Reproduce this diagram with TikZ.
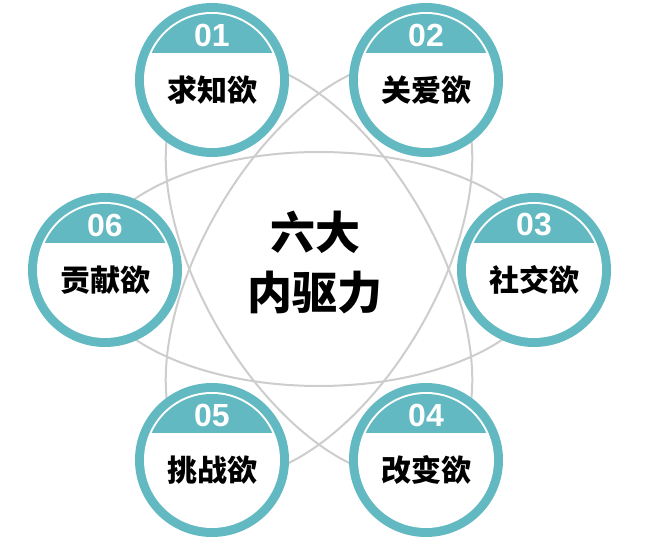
\documentclass[tikz,border=0pt]{standalone}
\usepackage{fontspec}
\setmainfont{Liberation Sans}
\newfontfamily\cjk{Noto Sans CJK SC}
\usetikzlibrary{calc}
\definecolor{tealc}{RGB}{98,185,193}
\definecolor{grayl}{RGB}{205,205,205}
\tikzset{
  badge/.style={circle, fill=tealc, minimum size=154pt, inner sep=0pt},
  numtext/.style={text=white, inner sep=0pt, font=\fontsize{32}{32}\selectfont\bfseries},
  lbltext/.style={inner sep=0pt, font=\cjk\bfseries\fontsize{30}{30}\selectfont},
  bgline/.style={draw=grayl, line width=2pt},
  centertext/.style={align=center, inner sep=0pt, font=\cjk\bfseries\fontsize{45}{60}\selectfont}
}
\newcommand\mkbadge[5]{%
  \node[badge] (#1) at (#2,#3) {};
  \fill[white] (#1.center) circle (68pt);
  \begin{scope}
    \clip (#1.center) circle (66pt);
    \fill[tealc] ($(#1.center)+(-70pt,27pt)$) rectangle ($(#1.center)+(70pt,70pt)$);
  \end{scope}
  \node[numtext] (#1n) at ($(#1.center)+(0,45pt)$) {#4};
  \node[lbltext] (#1l) at ($(#1.center)+(0,-10pt)$) {#5};
}
\begin{document}
\begin{tikzpicture}[x=1pt,y=1pt]
\useasboundingbox (0,0) rectangle (652,537);
\coordinate (c) at (319,268);
\draw[bgline] (c) ellipse [x radius=230pt, y radius=117pt];
\draw[bgline, rotate around={60:(c)}] (c) ellipse [x radius=230pt, y radius=117pt];
\draw[bgline, rotate around={120:(c)}] (c) ellipse [x radius=230pt, y radius=117pt];
\mkbadge{b1}{212}{457}{01}{求知欲}
\mkbadge{b2}{426}{457}{02}{关爱欲}
\mkbadge{b3}{534}{267}{03}{社交欲}
\mkbadge{b4}{426}{77}{04}{改变欲}
\mkbadge{b5}{212}{77}{05}{挑战欲}
\mkbadge{b6}{105}{267}{06}{贡献欲}
\node[centertext] (ct) at (315,274) {六大\\内驱力};
\end{tikzpicture}
\end{document}
